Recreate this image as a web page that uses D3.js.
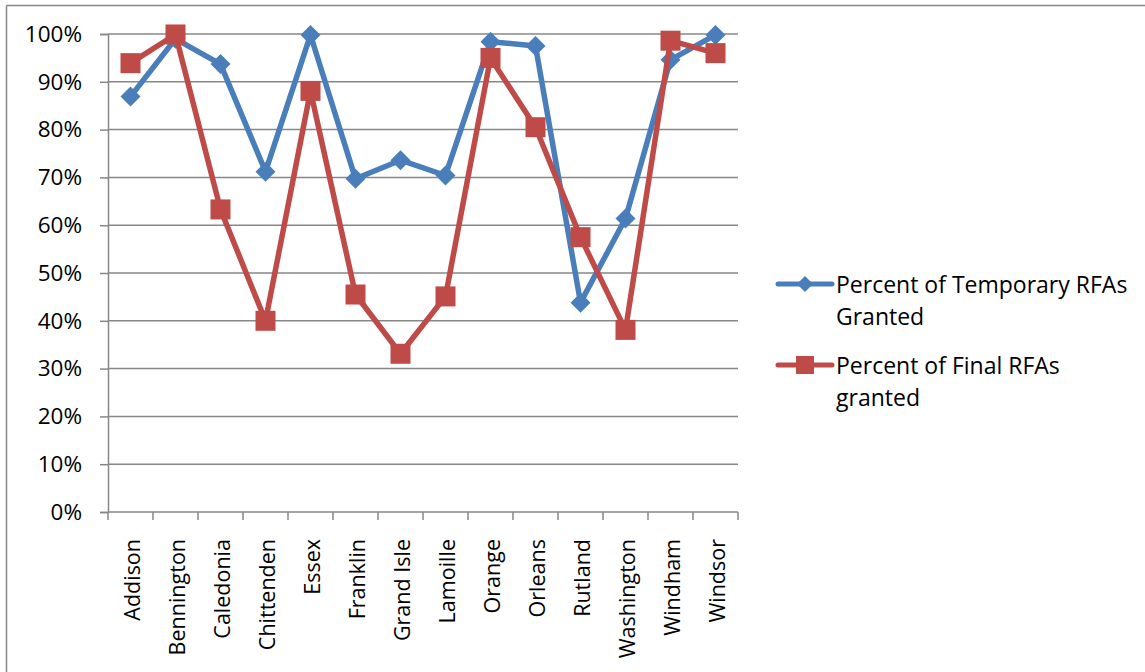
<!DOCTYPE html>
<html>
<head>
<meta charset="utf-8">
<script src="https://cdn.jsdelivr.net/npm/d3@7/dist/d3.min.js"></script>
<style>
  html, body { margin: 0; padding: 0; background: #fff; }
  svg { display: block; font-family: "Open Sans", "Noto Sans", sans-serif; }
</style>
</head>
<body>
<svg id="chart" width="1145" height="672"></svg>
<script>
// Vermont counties
const counties = ["Addison", "Bennington", "Caledonia", "Chittenden", "Essex", "Franklin",
  "Grand Isle", "Lamoille", "Orange", "Orleans", "Rutland", "Washington", "Windham", "Windsor"];

// Share of requests granted, per county
const temporaryGranted = [0.869, 0.99, 0.937, 0.712, 0.998, 0.697, 0.736, 0.704, 0.984, 0.975, 0.438, 0.614, 0.946, 0.998];
const finalGranted     = [0.939, 0.999, 0.633, 0.400, 0.881, 0.455, 0.331, 0.451, 0.950, 0.805, 0.575, 0.381, 0.986, 0.960];

const seriesNames = ["Percent of Temporary RFAs Granted", "Percent of Final RFAs granted"];
const yTicks = [0, 0.1, 0.2, 0.3, 0.4, 0.5, 0.6, 0.7, 0.8, 0.9, 1.0];

const svg = d3.select("#chart");
const gridColor = "#878787";
const blue = "#4a7ebb", red = "#be4b48";

// outer frame (top and left edges)
svg.append("line").attr("x1", 6.5).attr("x2", 1145).attr("y1", 5.5).attr("y2", 5.5)
  .attr("stroke", gridColor).attr("stroke-width", 1.5);
svg.append("line").attr("x1", 6.5).attr("x2", 6.5).attr("y1", 5.5).attr("y2", 672)
  .attr("stroke", gridColor).attr("stroke-width", 1.5);

const plot = { left: 108, right: 738, top: 34, bottom: 512 };

const x = d3.scaleBand().domain(counties).range([plot.left, plot.right]).paddingInner(0).paddingOuter(0);
const y = d3.scaleLinear().domain([0, 1]).range([plot.bottom, plot.top]);
const xc = d => x(d) + x.bandwidth() / 2;

// horizontal gridlines
svg.append("g").selectAll("line").data(yTicks.filter(t => t > 0)).join("line")
  .attr("x1", plot.left).attr("x2", plot.right)
  .attr("y1", d => y(d)).attr("y2", d => y(d))
  .attr("stroke", gridColor).attr("stroke-width", 1.5);

// y axis
const yAxis = svg.append("g").attr("transform", `translate(${plot.left},0)`)
  .call(d3.axisLeft(y).tickValues(yTicks).tickFormat(d3.format(".0%")).tickSize(8).tickPadding(18));
yAxis.select(".domain").attr("stroke", gridColor).attr("stroke-width", 1.5);
yAxis.selectAll(".tick line").attr("stroke", gridColor).attr("stroke-width", 1.5);
yAxis.selectAll(".tick text").attr("font-size", 22.5).attr("fill", "#000")
  .attr("font-family", "Open Sans, sans-serif");

// x axis line and boundary ticks
svg.append("line").attr("x1", plot.left).attr("x2", plot.right)
  .attr("y1", plot.bottom).attr("y2", plot.bottom)
  .attr("stroke", gridColor).attr("stroke-width", 1.5);
const boundaries = counties.map(c => x(c)).concat([plot.right]);
svg.append("g").selectAll("line").data(boundaries).join("line")
  .attr("x1", d => d).attr("x2", d => d)
  .attr("y1", plot.bottom).attr("y2", plot.bottom + 8)
  .attr("stroke", gridColor).attr("stroke-width", 1.5);

// rotated category labels
svg.append("g").selectAll("text").data(counties).join("text")
  .attr("transform", d => `translate(${xc(d) + 1},${plot.bottom + 27}) rotate(-90)`)
  .attr("text-anchor", "end").attr("dominant-baseline", "central")
  .attr("font-size", 21.5).attr("fill", "#000")
  .text(d => d);

const line = d3.line().x((d, i) => xc(counties[i])).y(d => y(d));

// temporary RFAs: blue line with diamonds
svg.append("path").datum(temporaryGranted).attr("d", line)
  .attr("fill", "none").attr("stroke", blue).attr("stroke-width", 5.5).attr("stroke-linejoin", "round");
svg.append("g").selectAll("path").data(temporaryGranted).join("path")
  .attr("d", d3.symbol(d3.symbolSquare, 200)())
  .attr("transform", (d, i) => `translate(${xc(counties[i])},${y(d)}) rotate(45)`)
  .attr("fill", blue);

// final RFAs: red line with squares
svg.append("path").datum(finalGranted).attr("d", line)
  .attr("fill", "none").attr("stroke", red).attr("stroke-width", 5.5).attr("stroke-linejoin", "round");
svg.append("g").selectAll("rect").data(finalGranted).join("rect")
  .attr("x", (d, i) => xc(counties[i]) - 10).attr("y", d => y(d) - 10)
  .attr("width", 20).attr("height", 20)
  .attr("fill", red);

// legend
const legend = svg.append("g");
const legendItems = [
  { color: blue, marker: "diamond", y: 284, lines: ["Percent of Temporary RFAs", "Granted"] },
  { color: red, marker: "square", y: 365, lines: ["Percent of Final RFAs", "granted"] }
];
legendItems.forEach((it, k) => {
  const g = legend.append("g");
  g.append("line").attr("x1", 778).attr("x2", 832).attr("y1", it.y).attr("y2", it.y)
    .attr("stroke", it.color).attr("stroke-width", 5).attr("stroke-linecap", "round");
  if (it.marker === "diamond") {
    g.append("path").attr("d", d3.symbol(d3.symbolSquare, 130)())
      .attr("transform", `translate(805,${it.y}) rotate(45)`).attr("fill", it.color);
  } else {
    g.append("rect").attr("x", 796).attr("y", it.y - 9).attr("width", 18).attr("height", 18)
      .attr("fill", it.color);
  }
  it.lines.forEach((t, j) => {
    g.append("text").attr("x", 836).attr("y", it.y + j * 32)
      .attr("dominant-baseline", "central").attr("font-size", 23).attr("fill", "#000")
      .text(t);
  });
  g.datum(seriesNames[k]);
});
</script>
</body>
</html>
